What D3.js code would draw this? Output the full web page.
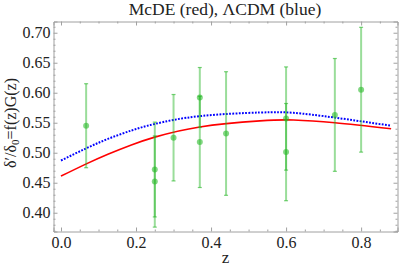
<!DOCTYPE html>
<html>
<head>
<meta charset="utf-8">
<script src="https://cdn.jsdelivr.net/npm/d3@7"></script>
<style>
  body { margin: 0; background: #fff; }
  svg text { font-family: "Liberation Serif", "DejaVu Serif", serif; fill: #222; }
  .frame path.domain { stroke: #a0a0a0; }
  .frame line { stroke: #a0a0a0; }
</style>
</head>
<body>
<div id="chart"></div>
<script>
// data
let zData = [0.067, 0.25, 0.25, 0.30, 0.37, 0.37, 0.44, 0.60, 0.60, 0.73, 0.80];
let fgData = [0.545, 0.472, 0.452, 0.525, 0.592, 0.518, 0.532, 0.557, 0.501, 0.563, 0.605];
let errData = [0.070, 0.079, 0.076, 0.072, 0.050, 0.076, 0.103, 0.086, 0.081, 0.094, 0.104];

// model curves (sampled)
let zCurve = [0, 0.066, 0.125, 0.1875, 0.25, 0.37, 0.53, 0.62, 0.73, 0.88];
let lcdm = [0.487, 0.507, 0.523, 0.537, 0.548, 0.561, 0.567, 0.5665, 0.5585, 0.545];
let mcde = [0.461, 0.481, 0.4975, 0.513, 0.526, 0.543, 0.553, 0.5545, 0.550, 0.540];

let xTicks = [0.0, 0.2, 0.4, 0.6, 0.8];
let yTicks = [0.40, 0.45, 0.50, 0.55, 0.60, 0.65, 0.70];

let width = 399, height = 275;
let mLeft = 53.5, mRight = 397.5, mTop = 21.5, mBottom = 231.5;
let serif = '"Liberation Serif", "DejaVu Serif", serif';

let svg = d3.select("#chart").append("svg")
    .attr("width", width)
    .attr("height", height);

let x = d3.scaleLinear().domain([-0.02, 0.897]).range([mLeft, mRight]);
let y = d3.scaleLinear().domain([0.3687, 0.7187]).range([mBottom, mTop]);

let xMinor = d3.range(0, 0.9, 0.05).filter(d => Math.abs(d * 5 - Math.round(d * 5)) > 1e-6);
let yMinor = d3.range(0.37, 0.72, 0.01).filter(d => Math.abs(d * 20 - Math.round(d * 20)) > 1e-6);

// frame with inward ticks
function frameAxis(axis, tf, minorTicks, major, fmt, pad) {
    let g = svg.append("g").attr("class", "frame").attr("transform", tf);
    g.call(axis.tickValues(major).tickSize(-4).tickPadding(pad)
        .tickFormat(fmt ? d3.format(fmt) : () => ""));
    g.attr("font-family", serif);
    g.selectAll(":scope > .tick text")
        .style("font-family", serif)
        .style("font-size", "16px");
    g.append("g").call(axis.tickValues(minorTicks).tickSize(-2).tickFormat(() => ""))
        .select(".domain").remove();
    return g;
}

frameAxis(d3.axisBottom(x), `translate(0,${mBottom})`, xMinor, xTicks, ".1f", 5);
frameAxis(d3.axisTop(x), `translate(0,${mTop})`, xMinor, xTicks, null, 3);
frameAxis(d3.axisLeft(y), `translate(${mLeft},0)`, yMinor, yTicks, ".2f", 3);
frameAxis(d3.axisRight(y), `translate(${mRight},0)`, yMinor, yTicks, null, 3);

// curves
let line = d3.line().curve(d3.curveNatural);
svg.append("path")
    .attr("d", line(zCurve.map((z, i) => [x(z), y(mcde[i])])))
    .attr("fill", "none")
    .attr("stroke", "#f00")
    .attr("stroke-width", 1.6);
svg.append("path")
    .attr("d", line(zCurve.map((z, i) => [x(z), y(lcdm[i])])))
    .attr("fill", "none")
    .attr("stroke", "#00f")
    .attr("stroke-width", 2)
    .attr("stroke-dasharray", "1.8,1.4");

// error bars
let pts = svg.append("g");
zData.forEach(function (z, i) {
    let cx = x(z), lo = y(fgData[i] - errData[i]), hi = y(fgData[i] + errData[i]);
    pts.append("line").attr("x1", cx).attr("x2", cx).attr("y1", lo).attr("y2", hi)
        .attr("stroke", "#1fb41f").attr("stroke-opacity", 0.45).attr("stroke-width", 2);
    [lo, hi].forEach(function (yy) {
        pts.append("line").attr("x1", cx - 2).attr("x2", cx + 2).attr("y1", yy).attr("y2", yy)
            .attr("stroke", "#1fb41f").attr("stroke-opacity", 0.6).attr("stroke-width", 1.2);
    });
    pts.append("circle").attr("cx", cx).attr("cy", y(fgData[i])).attr("r", 3)
        .attr("fill", "#2dbb2d").attr("fill-opacity", 0.6);
});

// title and labels
svg.append("text")
    .attr("x", 225).attr("y", 15)
    .attr("text-anchor", "middle")
    .style("font-size", "17.5px")
    .text("McDE (red), ΛCDM (blue)");

svg.append("text")
    .attr("x", (mLeft + mRight) / 2).attr("y", 263)
    .attr("text-anchor", "middle")
    .style("font-size", "17px")
    .text("z");

let yl = svg.append("text")
    .attr("transform", "translate(16,123) rotate(-90)")
    .attr("text-anchor", "middle")
    .style("font-size", "16px");
yl.append("tspan").text("δ′/δ");
yl.append("tspan").attr("dy", 3).style("font-size", "11px").text("0");
yl.append("tspan").attr("dy", -3).text("=f(z)G(z)");
</script>
</body>
</html>
